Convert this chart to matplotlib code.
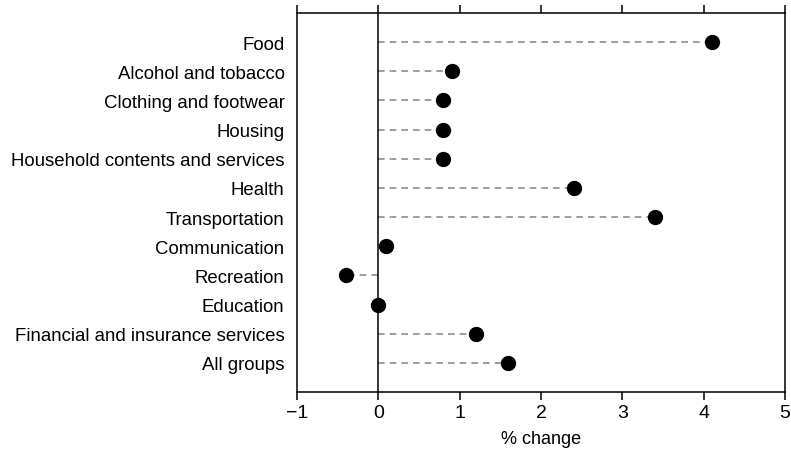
import matplotlib

matplotlib.use("Agg")
import matplotlib.pyplot as plt

# categories listed top to bottom
categories = [
    "Food",
    "Alcohol and tobacco",
    "Clothing and footwear",
    "Housing",
    "Household contents and services",
    "Health",
    "Transportation",
    "Communication",
    "Recreation",
    "Education",
    "Financial and insurance services",
    "All groups",
]
pct_change = [4.1, 0.9, 0.8, 0.8, 0.8, 2.4, 3.4, 0.1, -0.4, 0.0, 1.2, 1.6]

plt.rcParams["font.family"] = ["Liberation Sans", "DejaVu Sans"]

fig = plt.figure(figsize=(7.91, 4.56), dpi=100)
ax = fig.add_axes([0.3755, 0.1382, 0.6169, 0.8311])

ypos = list(range(len(categories)))
for y, v in zip(ypos, pct_change):
    ax.plot([0, v], [y, y], color="#8c8c8c", linestyle=(0, (4, 3)), linewidth=1.2, zorder=1)
ax.axvline(0, color="black", linewidth=1.1, zorder=2)
ax.plot(pct_change, ypos, "o", color="black", markersize=10, zorder=3)

ax.set_xlim(-1, 5)
ax.set_ylim(len(categories), -1)
ax.set_xticks(range(-1, 6))
ax.set_xticklabels(["\u22121", "0", "1", "2", "3", "4", "5"], fontsize=14)
ax.set_yticks(ypos)
ax.set_yticklabels(categories, fontsize=13.4)
ax.tick_params(axis="y", length=0, pad=9)
ax.tick_params(axis="x", top=True, direction="out", length=6, width=1.1, pad=3)
ax.set_xlabel("% change", fontsize=13, labelpad=6)
for s in ax.spines.values():
    s.set_linewidth(1.1)

fig.savefig("out.png", dpi=100)
